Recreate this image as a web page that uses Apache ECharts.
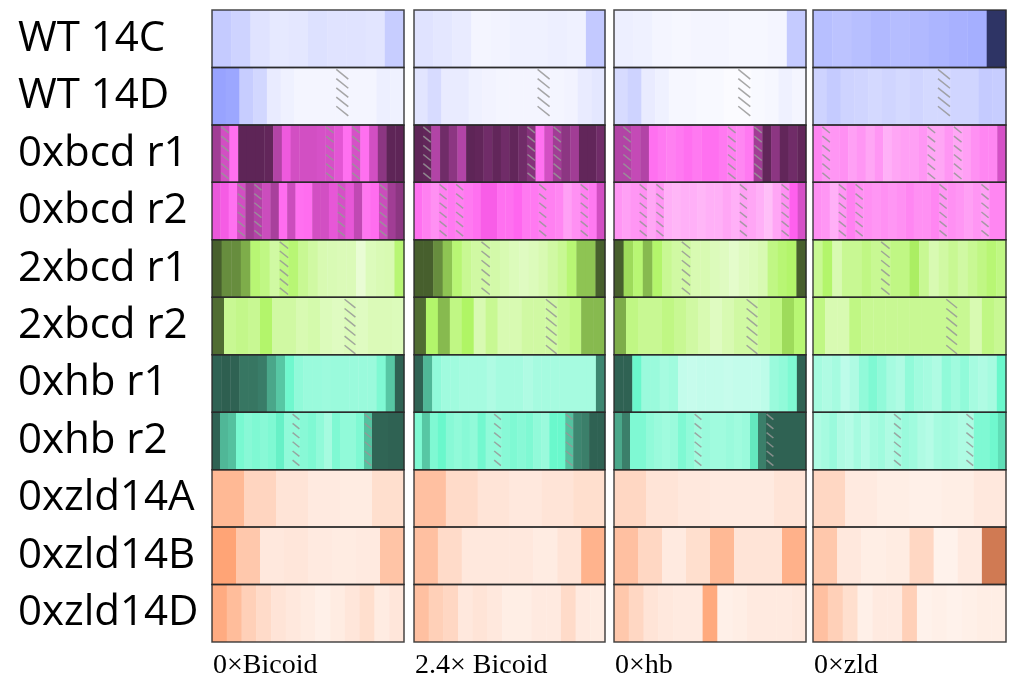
<!DOCTYPE html>
<html>
<head>
<meta charset="utf-8">
<script src="https://cdn.jsdelivr.net/npm/echarts@6/dist/echarts.min.js"></script>
<style>
html, body { margin: 0; background: #fff; }
#chart { width: 1014px; height: 677px; }
</style>
</head>
<body>
<div id="chart"></div>
<script>
var rowLabels = ['WT 14C', 'WT 14D', '0xbcd r1', '0xbcd r2', '2xbcd r1', '2xbcd r2',
  '0xhb r1', '0xhb r2', '0xzld14A', '0xzld14B', '0xzld14D'];
var panelNames = ['0×Bicoid', '2.4× Bicoid', '0×hb', '0×zld'];
var rowFamily = ['blue', 'blue', 'magenta', 'magenta', 'green', 'green',
  'teal', 'teal', 'salmon', 'salmon', 'salmon'];
// cells drawn with grey hatching (same cell in every panel)
var hatched = [[], [9], [1, 13, 16], [3, 5, 15, 20], [7], [11], [], [10, 19], [], [], []];

// 0 = pale, 50 = full colour, 100 = dark
var bicoid0 = [
  [26, 22, 14, 11, 12, 15, 14, 14, 13, 25],
  [46, 44, 25, 20, 10, 7, 5, 5, 5, 5, 5, 5, 8, 7],
  [77, 63, 45, 96, 96, 96, 95, 72, 55, 63, 63, 63, 62, 62, 58, 45, 62, 45, 63, 83, 96, 96],
  [56, 53, 45, 63, 77, 72, 65, 75, 46, 65, 45, 46, 63, 63, 57, 62, 57, 68, 43, 46, 65, 77, 83],
  [96, 82, 82, 72, 45, 40, 30, 40, 45, 35, 30, 25, 24, 23, 23, 14, 22, 24, 25, 45],
  [92, 35, 38, 35, 48, 30, 30, 25, 27, 22, 20, 22, 20, 23, 23, 22],
  [96, 97, 96, 90, 90, 88, 75, 65, 48, 37, 34, 34, 33, 34, 34, 34, 34, 34, 43, 65, 96],
  [96, 70, 67, 45, 40, 43, 40, 43, 52, 37, 37, 40, 43, 37, 30, 43, 37, 37, 43, 67, 95, 95, 96, 96],
  [37, 22, 14, 11, 10, 17],
  [48, 29, 12, 13, 11, 10, 11, 31],
  [44, 35, 25, 19, 14, 12, 10, 8, 10, 13, 17, 10, 13]
];
var bicoid24 = [
  [14, 12, 10, 5, 6, 7, 7, 8, 7, 27],
  [13, 18, 10, 10, 7, 6, 5, 5, 5, 5, 5, 6, 10, 12],
  [96, 95, 72, 91, 83, 72, 96, 95, 91, 95, 91, 95, 91, 85, 45, 63, 77, 83, 77, 95, 95, 91],
  [45, 40, 35, 40, 42, 40, 42, 45, 52, 52, 45, 45, 48, 42, 42, 40, 40, 38, 30, 35, 40, 42, 63],
  [96, 96, 82, 65, 45, 35, 30, 30, 28, 25, 22, 20, 22, 25, 30, 35, 45, 65, 65, 96],
  [92, 48, 68, 40, 50, 25, 35, 25, 25, 30, 30, 30, 35, 40, 68, 68],
  [96, 70, 37, 32, 32, 30, 30, 30, 27, 30, 30, 30, 27, 30, 30, 30, 30, 30, 30, 30, 85],
  [43, 65, 43, 50, 40, 37, 40, 37, 47, 37, 37, 40, 43, 40, 43, 37, 34, 50, 50, 67, 85, 87, 96, 96],
  [33, 19, 14, 12, 14, 17],
  [33, 19, 12, 12, 12, 10, 14, 40],
  [33, 25, 21, 12, 14, 12, 9, 9, 11, 11, 19, 11, 10]
];
var hb0 = [
  [8, 7, 5, 4, 5, 5, 4, 4, 5, 26],
  [18, 22, 10, 7, 4, 4, 3, 3, 2, 2, 3, 4, 7, 5],
  [72, 72, 67, 72, 45, 42, 40, 42, 45, 42, 45, 45, 42, 40, 38, 42, 77, 95, 83, 95, 91, 95],
  [33, 30, 33, 35, 28, 33, 25, 23, 25, 25, 23, 25, 25, 28, 25, 30, 28, 25, 20, 28, 35, 50, 62],
  [96, 58, 45, 68, 48, 35, 30, 30, 25, 25, 22, 20, 17, 20, 22, 25, 40, 45, 48, 96],
  [72, 40, 35, 35, 40, 35, 30, 25, 20, 25, 30, 30, 35, 40, 58, 45],
  [96, 96, 50, 34, 34, 30, 32, 20, 19, 20, 20, 20, 19, 20, 20, 20, 22, 34, 37, 43, 96],
  [75, 87, 43, 43, 37, 34, 32, 34, 43, 37, 32, 34, 32, 32, 34, 32, 34, 55, 87, 96, 96, 96, 96, 96],
  [21, 14, 12, 11, 11, 14],
  [33, 21, 11, 17, 37, 14, 14, 41],
  [29, 21, 14, 12, 11, 11, 45, 8, 9, 11, 11, 11, 12]
];
var zld0 = [
  [32, 30, 32, 35, 33, 35, 37, 39, 40, 96],
  [22, 26, 22, 21, 19, 21, 19, 21, 19, 19, 21, 21, 26, 25],
  [38, 33, 33, 35, 30, 33, 28, 33, 25, 28, 30, 30, 33, 28, 28, 33, 28, 30, 35, 38, 38, 62],
  [35, 33, 25, 33, 40, 35, 35, 33, 35, 33, 35, 38, 35, 35, 38, 33, 35, 33, 30, 33, 30, 38, 38],
  [35, 48, 25, 35, 35, 40, 35, 35, 40, 40, 52, 35, 25, 30, 35, 30, 35, 40, 45, 40],
  [40, 25, 25, 40, 35, 35, 35, 35, 35, 35, 35, 35, 35, 25, 40, 35],
  [30, 27, 30, 22, 27, 37, 43, 37, 30, 27, 37, 32, 30, 27, 37, 32, 37, 30, 27, 30, 50],
  [27, 30, 34, 27, 25, 30, 25, 30, 32, 27, 30, 34, 32, 27, 25, 30, 32, 30, 27, 27, 43, 43, 48, 58],
  [21, 11, 9, 8, 9, 12],
  [29, 12, 9, 10, 21, 7, 11, 80],
  [33, 25, 17, 8, 11, 11, 25, 7, 8, 7, 8, 9, 9]
];
var panels = [bicoid0, bicoid24, hb0, zld0];

var families = {
  blue: ['#ffffff', '#8f9bff', '#262b58'],
  magenta: ['#ffffff', '#ff60ee', '#50204a'],
  green: ['#ffffff', '#b0f565', '#3e5228'],
  teal: ['#ffffff', '#6af8cc', '#2a5548'],
  salmon: ['#ffffff', '#ffa070', '#b06040']
};

function hexRgb(h) {
  return [parseInt(h.substr(1, 2), 16), parseInt(h.substr(3, 2), 16), parseInt(h.substr(5, 2), 16)];
}
function cellColor(fam, v) {
  var st = families[fam];
  var a, b, t;
  if (v <= 50) { a = hexRgb(st[0]); b = hexRgb(st[1]); t = v / 50; }
  else { a = hexRgb(st[1]); b = hexRgb(st[2]); t = (v - 50) / 50; }
  var c = [];
  for (var k = 0; k < 3; k++) c.push(Math.round(a[k] + (b[k] - a[k]) * t));
  return 'rgb(' + c.join(',') + ')';
}

function renderCell(params, api) {
  var row = api.value(0), i = api.value(1), n = api.value(2);
  var p0 = api.coord([i / n, row]);
  var p1 = api.coord([(i + 1) / n, row]);
  var h = api.size([0, 1])[1];
  var x = p0[0], w = p1[0] - p0[0], y = p0[1] - h / 2;
  var children = [{
    type: 'rect',
    shape: { x: x, y: y, width: w + 0.4, height: h },
    style: { fill: cellColor(rowFamily[row], api.value(3)) }
  }];
  if (api.value(4)) {
    var sw = Math.min(w - 1.2, 12);
    var dh = sw * 0.8;
    for (var yk = y + 2; yk + dh <= y + h - 0.5; yk += 9.2) {
      children.push({
        type: 'line',
        shape: { x1: x + (w - sw) / 2, y1: yk, x2: x + (w + sw) / 2, y2: yk + dh },
        style: { stroke: 'rgba(150,150,150,0.85)', lineWidth: 1.5 }
      });
    }
  }
  return { type: 'group', children: children };
}

function renderFrame(params, api) {
  var row = api.value(0);
  var p0 = api.coord([0, row]);
  var p1 = api.coord([1, row]);
  var h = api.size([0, 1])[1];
  return {
    type: 'rect',
    shape: { x: p0[0], y: p0[1] - h / 2, width: p1[0] - p0[0], height: h },
    style: { fill: null, stroke: 'rgba(40,40,40,0.85)', lineWidth: 1.5 }
  };
}

var myChart = echarts.init(document.getElementById('chart'));

var gridLeft = [212, 414, 614, 813];
var gridWidth = [192, 191, 192, 193];
var grids = [], xAxes = [], yAxes = [], series = [], titles = [];
var frameData = [];
for (var r = 0; r < rowLabels.length; r++) frameData.push([r]);

for (var p = 0; p < panels.length; p++) {
  grids.push({ left: gridLeft[p], width: gridWidth[p], top: 10, height: 632 });
  xAxes.push({ type: 'value', gridIndex: p, min: 0, max: 1, show: false });
  yAxes.push({
    type: 'category', gridIndex: p, data: rowLabels, inverse: true,
    axisLine: { show: false }, axisTick: { show: false }, splitLine: { show: false },
    axisLabel: {
      show: p === 0, align: 'left', margin: 194,
      fontFamily: 'Open Sans', fontSize: 42, color: '#000'
    }
  });
  var cells = [];
  for (var rr = 0; rr < panels[p].length; rr++) {
    var vals = panels[p][rr];
    for (var i = 0; i < vals.length; i++) {
      cells.push([rr, i, vals.length, vals[i], hatched[rr].indexOf(i) >= 0 ? 1 : 0]);
    }
  }
  series.push({
    type: 'custom', xAxisIndex: p, yAxisIndex: p,
    renderItem: renderCell, data: cells, encode: { x: 1, y: 0 },
    silent: true, z: 2
  });
  series.push({
    type: 'custom', xAxisIndex: p, yAxisIndex: p,
    renderItem: renderFrame, data: frameData, encode: { y: 0 },
    silent: true, z: 3
  });
  titles.push({
    text: panelNames[p], left: gridLeft[p] + 1, top: 652, padding: 0,
    textStyle: { fontFamily: 'Liberation Serif', fontSize: 28, fontWeight: 'normal', color: '#000' }
  });
}

var option = {
  animation: false,
  backgroundColor: '#fff',
  title: titles,
  grid: grids,
  xAxis: xAxes,
  yAxis: yAxes,
  series: series
};
myChart.setOption(option);
</script>
</body>
</html>
